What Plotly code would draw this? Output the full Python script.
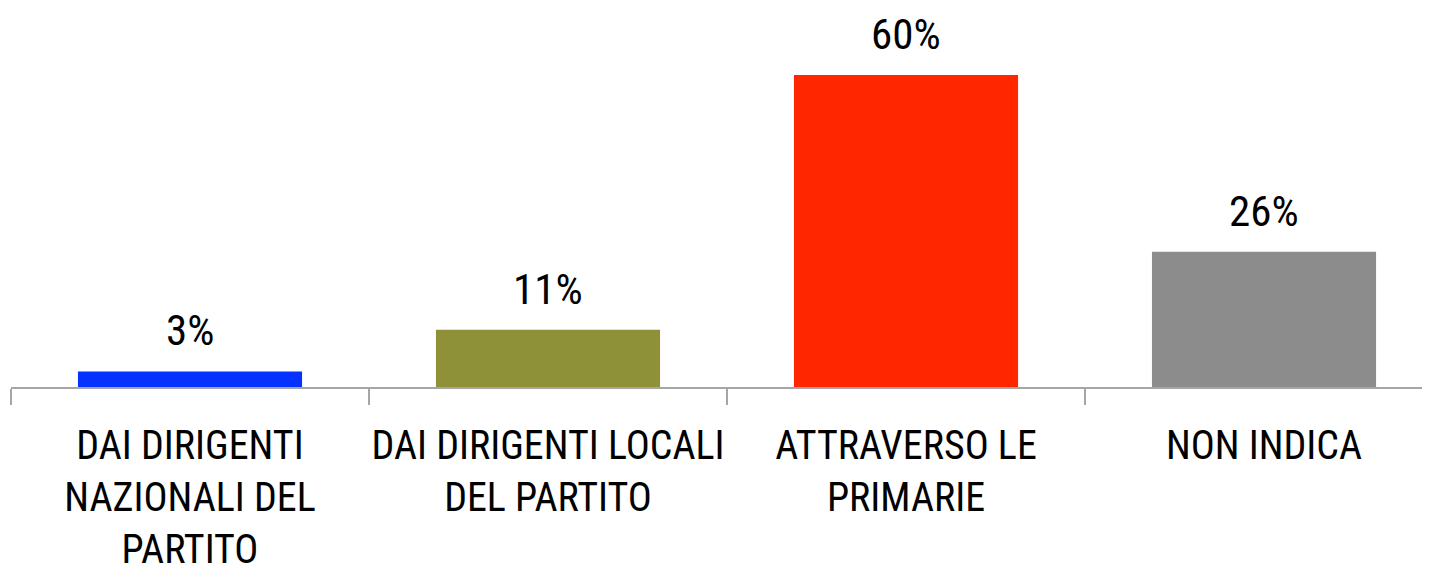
import plotly.graph_objects as go

categories = ["DAI DIRIGENTI<br>NAZIONALI DEL<br>PARTITO", "DAI DIRIGENTI LOCALI<br>DEL PARTITO",
              "ATTRAVERSO LE<br>PRIMARIE", "NON INDICA"]
values = [3, 11, 60, 26]
labels = ["3%", "11%", "60%", "26%"]
colors = ["#0433FF", "#8F9138", "#FF2600", "#8C8C8C"]

FONT = "Roboto Condensed, Open Sans Condensed, sans-serif"

fig = go.Figure()
fig.add_trace(go.Bar(
    x=list(range(len(values))), y=values,
    marker=dict(color=colors, line=dict(width=0)),
    hoverinfo="skip",
))
for i, (v, t) in enumerate(zip(values, labels)):
    fig.add_annotation(x=i, y=v, text=t, showarrow=False, yanchor="bottom",
                       yshift=14, font=dict(family=FONT, size=43, color="#000000"))

fig.update_layout(
    width=1430, height=583,
    margin=dict(l=3, r=0, t=0, b=204),
    paper_bgcolor="white", plot_bgcolor="white",
    bargap=0.374, showlegend=False,
    xaxis=dict(
        range=[-0.5, 3.486], tickmode="array",
        tickvals=list(range(len(values))), ticktext=categories,
        showline=True, linecolor="#A6A6A6", linewidth=2,
        ticks="", showgrid=False, zeroline=False,
        tickfont=dict(family=FONT, size=40, color="#000000"),
        ticklabelstandoff=22,
    ),
    yaxis=dict(range=[0, 72.9], visible=False, fixedrange=True),
)
fig.update_xaxes(minor=dict(tickmode="array", tickvals=[-0.5, 0.5, 1.5, 2.5],
                            ticks="outside", ticklen=16, tickwidth=2, tickcolor="#A6A6A6"))
fig.write_html("out.html")
